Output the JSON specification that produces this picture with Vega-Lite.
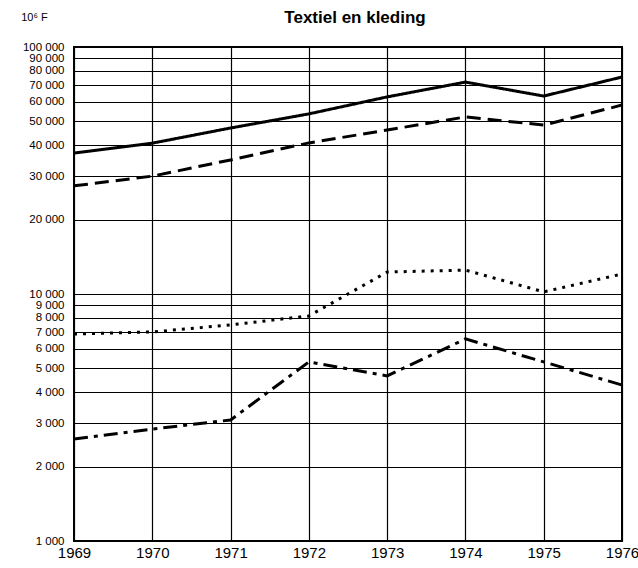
{
  "$schema": "https://vega.github.io/schema/vega-lite/v6.json",
  "width": 548,
  "height": 494,
  "autosize": "none",
  "padding": {"left": 74, "top": 47, "right": 16, "bottom": 27},
  "background": "white",
  "config": {
    "font": "Liberation Sans",
    "view": {"stroke": "black", "strokeWidth": 2},
    "locale": {"number": {"decimal": ",", "thousands": " ", "grouping": [3], "currency": ["", " F"]}}
  },
  "title": {
    "text": "Textiel en kleding",
    "fontSize": 17,
    "fontWeight": "bold",
    "color": "black",
    "anchor": "middle",
    "offset": 16,
    "dy": 32,
    "dx": 7
  },
  "data": {
    "values": [
      {"year": 1969, "series": "A", "value": 37200},
      {"year": 1970, "series": "A", "value": 40800},
      {"year": 1971, "series": "A", "value": 47000},
      {"year": 1972, "series": "A", "value": 53600},
      {"year": 1973, "series": "A", "value": 62800},
      {"year": 1974, "series": "A", "value": 72100},
      {"year": 1975, "series": "A", "value": 63300},
      {"year": 1976, "series": "A", "value": 75600},
      {"year": 1969, "series": "B", "value": 27400},
      {"year": 1970, "series": "B", "value": 30000},
      {"year": 1971, "series": "B", "value": 34900},
      {"year": 1972, "series": "B", "value": 40900},
      {"year": 1973, "series": "B", "value": 46100},
      {"year": 1974, "series": "B", "value": 52100},
      {"year": 1975, "series": "B", "value": 48300},
      {"year": 1976, "series": "B", "value": 58200},
      {"year": 1969, "series": "C", "value": 6890},
      {"year": 1970, "series": "C", "value": 7020},
      {"year": 1971, "series": "C", "value": 7500},
      {"year": 1972, "series": "C", "value": 8150},
      {"year": 1973, "series": "C", "value": 12270},
      {"year": 1974, "series": "C", "value": 12500},
      {"year": 1975, "series": "C", "value": 10200},
      {"year": 1976, "series": "C", "value": 12050},
      {"year": 1969, "series": "D", "value": 2590},
      {"year": 1970, "series": "D", "value": 2840},
      {"year": 1971, "series": "D", "value": 3090},
      {"year": 1972, "series": "D", "value": 5310},
      {"year": 1973, "series": "D", "value": 4660},
      {"year": 1974, "series": "D", "value": 6580},
      {"year": 1975, "series": "D", "value": 5310},
      {"year": 1976, "series": "D", "value": 4280}
    ]
  },
  "mark": {"type": "line", "color": "black", "strokeWidth": 3, "strokeCap": "butt", "clip": true},
  "encoding": {
    "x": {
      "field": "year",
      "type": "quantitative",
      "scale": {"domain": [1969, 1976], "nice": false, "zero": false},
      "axis": {
        "values": [1969, 1970, 1971, 1972, 1973, 1974, 1975, 1976],
        "format": "d",
        "title": null,
        "grid": true,
        "gridColor": "black",
        "gridOpacity": 1,
        "gridWidth": 1.2,
        "domain": false,
        "ticks": false,
        "labelFontSize": 15,
        "labelColor": "black",
        "labelPadding": 4,
        "labelFlush": false
      }
    },
    "y": {
      "field": "value",
      "type": "quantitative",
      "scale": {"type": "log", "domain": [1000, 100000], "nice": false},
      "axis": {
        "values": [1000, 2000, 3000, 4000, 5000, 6000, 7000, 8000, 9000, 10000, 20000, 30000, 40000, 50000, 60000, 70000, 80000, 90000, 100000],
        "format": ",d",
        "title": "10⁶ F",
        "titleAngle": 0,
        "titleX": -40,
        "titleY": -25,
        "titleFontSize": 11,
        "titleFontWeight": "normal",
        "titleColor": "black",
        "grid": true,
        "gridColor": "black",
        "gridOpacity": 1,
        "gridWidth": 1.2,
        "domain": false,
        "ticks": false,
        "labelFontSize": 11.5,
        "labelColor": "black",
        "labelPadding": 10,
        "labelFlush": false,
        "labelOverlap": false
      }
    },
    "strokeDash": {
      "field": "series",
      "type": "nominal",
      "scale": {"domain": ["A", "B", "C", "D"], "range": [[1, 0], [14, 7], [3, 6], [14, 6, 4, 6]]},
      "legend": null
    }
  }
}
